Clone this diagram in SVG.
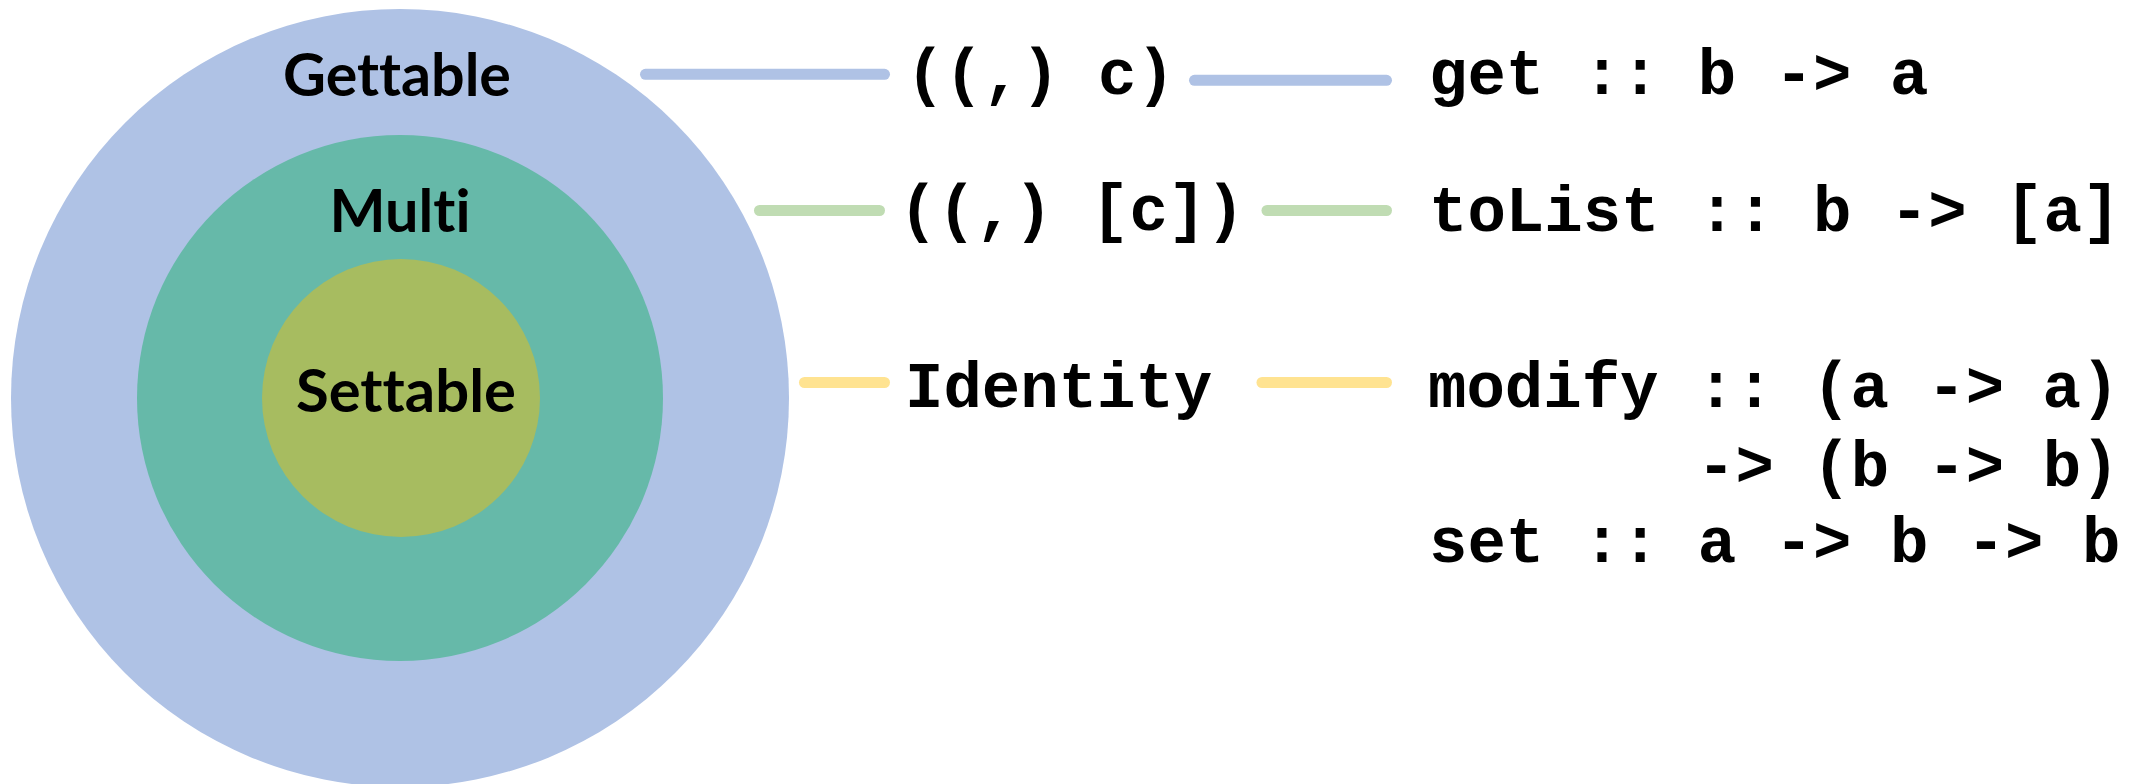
<svg xmlns="http://www.w3.org/2000/svg" width="2136" height="784" viewBox="0 0 2136 784">
  <style>
    .ring-label { font-family: Lato, "Noto Sans", sans-serif; font-weight: 700; font-size: 59px; fill: #000; text-anchor: middle; font-variant-ligatures: none; font-feature-settings: "liga" 0, "clig" 0, "dlig" 0; }
    .code { font-family: "Courier New", "Liberation Mono", monospace; font-weight: 700; font-size: 64px; fill: #000; font-variant-ligatures: none; }
    .link { fill: none; stroke-width: 11; stroke-linecap: round; }
    .link-get { stroke: #AFC2E5; }
    .link-multi { stroke: #C0DCB3; }
    .link-set { stroke: #FFE391; }
  </style>
  <rect width="2136" height="784" fill="#FFFFFF"/>

  <!-- nested capability rings -->
  <g id="gettable">
    <circle cx="400" cy="398" r="389" fill="#AFC2E5"/>
    <text class="ring-label" x="397" y="96" textLength="228" lengthAdjust="spacingAndGlyphs">Gettable</text>
  </g>
  <g id="multi">
    <circle cx="400" cy="398" r="263" fill="#66B9A9"/>
    <text class="ring-label" x="400" y="232" textLength="141" lengthAdjust="spacingAndGlyphs">Multi</text>
  </g>
  <g id="settable">
    <circle cx="401" cy="398" r="139" fill="#A7BC60"/>
    <text class="ring-label" x="406" y="412" textLength="220" lengthAdjust="spacingAndGlyphs">Settable</text>
  </g>

  <!-- functor choices -->
  <g id="functor-const">
    <text class="code" x="906" y="94">((,) c)</text>
  </g>
  <g id="functor-const-list">
    <text class="code" x="899" y="230">((,) [c])</text>
  </g>
  <g id="functor-identity">
    <text class="code" x="905" y="407">Identity</text>
  </g>

  <!-- derived operations -->
  <g id="op-get">
    <text class="code" x="1429" y="94">get :: b -&gt; a</text>
  </g>
  <g id="op-tolist">
    <text class="code" x="1429" y="231">toList :: b -&gt; [a]</text>
  </g>
  <g id="op-modify-set">
    <text class="code" x="1428" y="407">modify :: (a -&gt; a)</text>
    <text class="code" x="1697" y="486">-&gt; (b -&gt; b)</text>
    <text class="code" x="1429" y="562">set :: a -&gt; b -&gt; b</text>
  </g>

  <!-- connectors -->
  <g id="connectors">
    <line class="link link-get" x1="645.5" y1="74.3" x2="884.5" y2="74.3"/>
    <line class="link link-get" x1="1194.5" y1="80.3" x2="1386.5" y2="80.3"/>
    <line class="link link-multi" x1="759.5" y1="210.5" x2="879.5" y2="210.5"/>
    <line class="link link-multi" x1="1267" y1="210.5" x2="1386.5" y2="210.5"/>
    <line class="link link-set" x1="804.5" y1="382.5" x2="884.5" y2="382.5"/>
    <line class="link link-set" x1="1262" y1="382.5" x2="1386.5" y2="382.5"/>
  </g>
</svg>
